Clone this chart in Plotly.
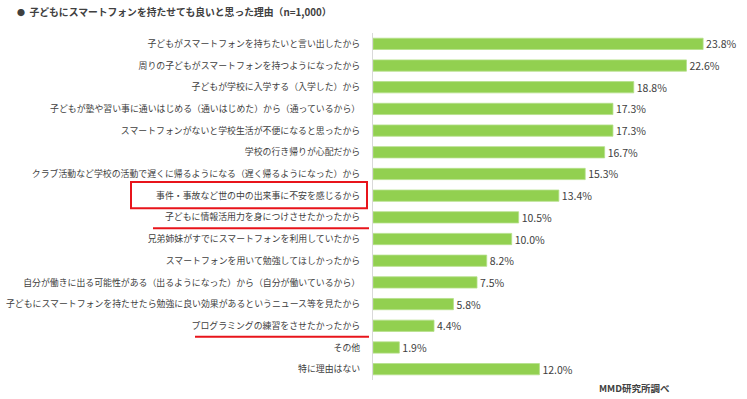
import plotly.graph_objects as go

categories = [
    "子どもがスマートフォンを持ちたいと言い出したから",
    "周りの子どもがスマートフォンを持つようになったから",
    "子どもが学校に入学する（入学した）から",
    "子どもが塾や習い事に通いはじめる（通いはじめた）から（通っているから）",
    "スマートフォンがないと学校生活が不便になると思ったから",
    "学校の行き帰りが心配だから",
    "クラブ活動など学校の活動で遅くに帰るようになる（遅く帰るようになった）から",
    "事件・事故など世の中の出来事に不安を感じるから",
    "子どもに情報活用力を身につけさせたかったから",
    "兄弟姉妹がすでにスマートフォンを利用していたから",
    "スマートフォンを用いて勉強してほしかったから",
    "自分が働きに出る可能性がある（出るようになった）から（自分が働いているから）",
    "子どもにスマートフォンを持たせたら勉強に良い効果があるというニュース等を見たから",
    "プログラミングの練習をさせたかったから",
    "その他",
    "特に理由はない",
]
values = [23.8, 22.6, 18.8, 17.3, 17.3, 16.7, 15.3, 13.4, 10.5, 10.0, 8.2, 7.5, 5.8, 4.4, 1.9, 12.0]
value_labels = [f"{v:.1f}%" for v in values]

title_text = "子どもにスマートフォンを持たせても良いと思った理由（n=1,000）"
source_text = "MMD研究所調べ"
boxed = ["事件・事故など世の中の出来事に不安を感じるから"]
underlined = ["子どもに情報活用力を身につけさせたかったから", "プログラミングの練習をさせたかったから"]

W, H = 747, 399
PLOT_L, PLOT_R, PLOT_T, PLOT_B = 373, 740, 33, 380  # pixels
ML = PLOT_L
MR = W - PLOT_R
MT = PLOT_T
MB = H - PLOT_B
PW = PLOT_R - PLOT_L
PH = PLOT_B - PLOT_T
N = len(categories)

def px_to_paper_x(px):
    return (px - PLOT_L) / PW

def py_to_paper_y(py):
    return (PLOT_B - py) / PH

def row_to_paper_y(i, off=0.0):
    return 1 - (i + 0.5 + off) / N

FONT = "Noto Sans CJK JP, Meiryo, sans-serif"

fig = go.Figure(go.Bar(
    x=values, y=categories, orientation="h",
    marker=dict(color="#92D050", line=dict(color="#B5E08A", width=0.8)),
    width=0.52,
    text=value_labels, textposition="outside",
    textfont=dict(size=10.5, color="#404040", family=FONT),
    constraintext="none",
    cliponaxis=False,
    hoverinfo="skip",
))

shapes = []
for c in boxed:
    i = categories.index(c)
    shapes.append(dict(type="rect", xref="paper", yref="paper",
                       x0=px_to_paper_x(131), x1=px_to_paper_x(367),
                       y0=row_to_paper_y(i, 0.58), y1=row_to_paper_y(i, -0.63),
                       line=dict(color="#E8141B", width=2)))
underline_x = {underlined[0]: 153, underlined[1]: 195}
for c in underlined:
    i = categories.index(c)
    y = row_to_paper_y(i, 0.5)
    shapes.append(dict(type="line", xref="paper", yref="paper",
                       x0=px_to_paper_x(underline_x[c]), x1=px_to_paper_x(369),
                       y0=y, y1=y, line=dict(color="#E8141B", width=2)))

fig.update_layout(
    width=W, height=H,
    margin=dict(l=ML, r=MR, t=MT, b=MB, pad=0, autoexpand=False),
    paper_bgcolor="white", plot_bgcolor="white",
    showlegend=False,
    font=dict(family=FONT, color="#404040"),
    title=dict(text="<span style='font-size:8px'>●</span>  " + title_text,
               x=17 / W, xanchor="left", xref="container",
               y=1 - 13 / H, yanchor="middle", yref="container",
               pad=dict(l=0, r=0, t=0, b=0),
               font=dict(size=9.8, color="#404040", family=FONT, weight="bold")),
    xaxis=dict(range=[0, PW / 13.87], visible=False, fixedrange=True, automargin=False),
    yaxis=dict(autorange="reversed", showgrid=False, zeroline=False,
               showline=True, linecolor="#D9D9D9", linewidth=1,
               ticks="", ticklabelstandoff=10, automargin=False,
               tickfont=dict(size=8.9, color="#404040", family=FONT),
               fixedrange=True),
    shapes=shapes,
    annotations=[dict(text=source_text, xref="paper", yref="paper",
                      x=px_to_paper_x(597), y=py_to_paper_y(388),
                      xanchor="left", yanchor="middle", showarrow=False,
                      font=dict(size=9.5, color="#404040", family=FONT, weight="bold"))],
)

fig.write_html(
    "out.html",
    config={"displayModeBar": False, "staticPlot": True},
    post_script="document.body.style.margin='0';document.body.style.overflow='hidden';",
)
